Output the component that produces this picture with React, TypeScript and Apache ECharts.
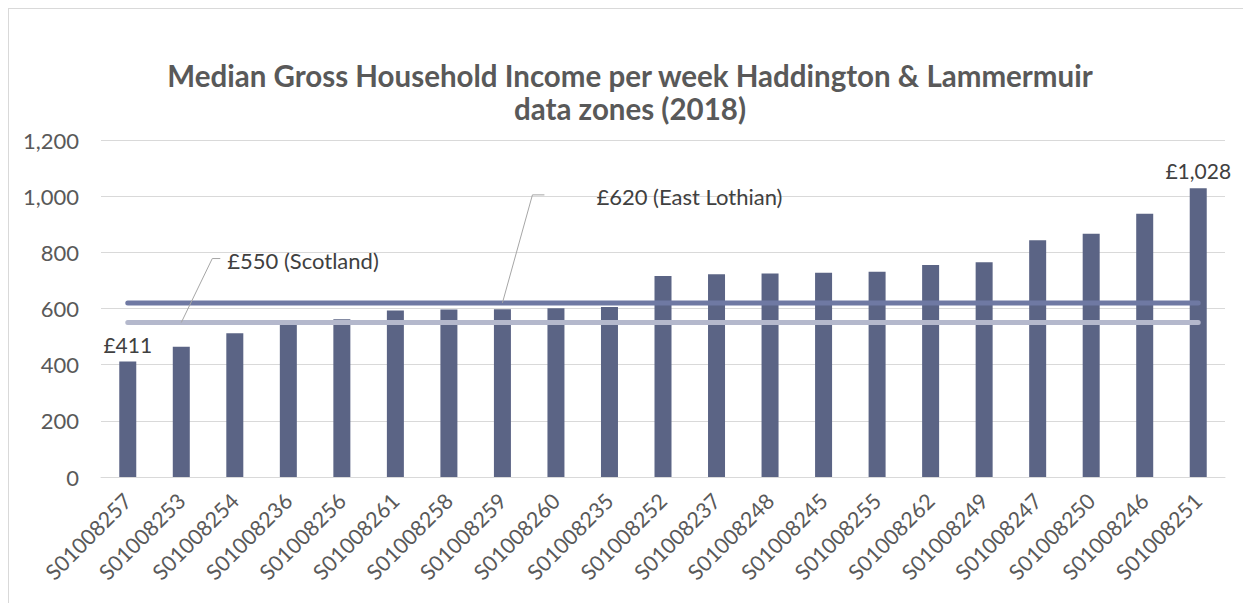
import React, { useEffect, useRef } from "react";
import * as echarts from "echarts";

const categories = [
  "S01008257", "S01008253", "S01008254", "S01008236", "S01008256", "S01008261",
  "S01008258", "S01008259", "S01008260", "S01008235", "S01008252", "S01008237",
  "S01008248", "S01008245", "S01008255", "S01008262", "S01008249", "S01008247",
  "S01008250", "S01008246", "S01008251",
];
const incomeValues = [
  411, 464, 512, 548, 562, 593, 596, 597, 601, 605, 716, 722, 725, 727, 731,
  755, 765, 843, 866, 937, 1028,
];
const scotlandValue = 550;
const eastLothianValue = 620;
const scotlandLabel = "£550 (Scotland)";
const eastLothianLabel = "£620 (East Lothian)";
const labelledBars = [0, 20];
const titleText = "Median Gross Household Income per week Haddington & Lammermuir\ndata zones (2018)";

const FONT = "Lato, 'Noto Sans', sans-serif";

export default function App() {
  const ref = useRef<HTMLDivElement>(null);
  useEffect(() => {
    if (!ref.current) return;
    const chart = echarts.init(ref.current, undefined, { renderer: "svg" });
    const fmt = (v: number) => "£" + v.toLocaleString("en-GB");
    chart.setOption({
      animation: false,
      textStyle: { fontFamily: FONT },
      title: {
        text: titleText,
        left: "center",
        top: 45,
        textStyle: {
          fontFamily: FONT,
          fontSize: 29.5,
          fontWeight: "bold",
          color: "#595959",
          lineHeight: 33,
        },
      },
      grid: { left: 92, right: 26, top: 131, bottom: 126 },
      xAxis: {
        type: "category",
        data: categories,
        axisLine: { lineStyle: { color: "#d9d9d9", width: 1 } },
        axisTick: { show: false },
        axisLabel: {
          rotate: 45,
          interval: 0,
          fontSize: 21.5,
          color: "#595959",
          fontFamily: FONT,
          margin: 20,
        },
      },
      yAxis: {
        type: "value",
        min: 0,
        max: 1200,
        interval: 200,
        axisLine: { show: false },
        axisTick: { show: false },
        splitLine: { lineStyle: { color: "#d9d9d9", width: 1 } },
        axisLabel: {
          fontSize: 22,
          color: "#595959",
          fontFamily: FONT,
          margin: 22,
          formatter: (v: number) => v.toLocaleString("en-GB"),
        },
      },
      series: [
        {
          type: "bar",
          barWidth: 17,
          itemStyle: { color: "#5b6485" },
          data: incomeValues.map((v, i) =>
            labelledBars.includes(i)
              ? {
                  value: v,
                  label: {
                    show: true,
                    position: "top",
                    distance: 7,
                    formatter: () => fmt(v),
                    fontSize: 21,
                    color: "#404040",
                    fontFamily: FONT,
                  },
                }
              : v
          ),
        },
        {
          type: "line",
          data: categories.map(() => eastLothianValue),
          symbol: "none",
          lineStyle: { color: "#6f79a3", width: 5, cap: "round" },
          z: 3,
        },
        {
          type: "line",
          data: categories.map(() => scotlandValue),
          symbol: "none",
          lineStyle: { color: "#b4b8cc", width: 5, cap: "round" },
          z: 3,
        },
      ],
    });

    const sp = chart.convertToPixel({ gridIndex: 0 }, [1, scotlandValue]) as number[];
    const ep = chart.convertToPixel({ gridIndex: 0 }, [7, eastLothianValue]) as number[];
    const leader = { stroke: "#a6a6a6", lineWidth: 1, fill: "none" };
    chart.setOption({
      graphic: [
        {
          type: "polyline",
          shape: {
            points: [
              [sp[0], sp[1]],
              [sp[0] + 31, sp[1] - 64],
              [sp[0] + 39, sp[1] - 64],
            ],
          },
          style: leader,
          z: 10,
        },
        {
          type: "text",
          x: sp[0] + 46,
          y: sp[1] - 62,
          style: {
            text: scotlandLabel,
            fontSize: 22,
            fontFamily: FONT,
            fill: "#404040",
            verticalAlign: "middle",
            align: "left",
          },
          z: 10,
        },
        {
          type: "polyline",
          shape: {
            points: [
              [ep[0], ep[1]],
              [ep[0] + 30, ep[1] - 108],
              [ep[0] + 42, ep[1] - 108],
            ],
          },
          style: leader,
          z: 10,
        },
        {
          type: "text",
          x: ep[0] + 94,
          y: ep[1] - 106,
          style: {
            text: eastLothianLabel,
            fontSize: 22,
            fontFamily: FONT,
            fill: "#404040",
            verticalAlign: "middle",
            align: "left",
          },
          z: 10,
        },
      ],
    });

    return () => chart.dispose();
  }, []);
  return (
    <div
      style={{
        width: 1243,
        height: 595,
        boxSizing: "border-box",
        borderLeft: "1px solid #d9d9d9",
        borderTop: "1px solid #d9d9d9",
        background: "#fff",
      }}
    >
      <div ref={ref} style={{ width: 1242, height: 594 }} />
    </div>
  );
}
